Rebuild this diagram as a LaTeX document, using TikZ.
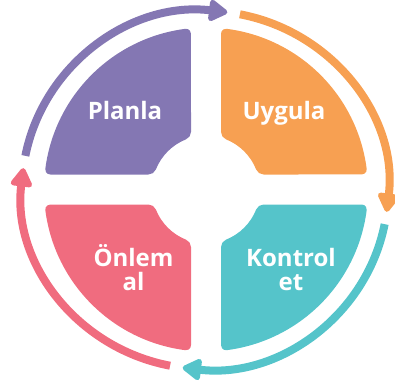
\documentclass[tikz,border=0pt]{standalone}
\usepackage{fontspec}
\setsansfont{Open Sans}
\usetikzlibrary{arrows.meta}

\definecolor{planlacol}{HTML}{8477B3}
\definecolor{uygulacol}{HTML}{F7A052}
\definecolor{kontrolcol}{HTML}{55C4CA}
\definecolor{onlemcol}{HTML}{F06C7F}

\tikzset{
  cyclearrow/.style={line width=8pt, -{Triangle[width=24pt, length=21pt, round]}},
  quadtext/.style={text=white, font=\sffamily\bfseries\fontsize{24}{24}\selectfont,
    align=center, anchor=base, inner sep=0pt},
}

\begin{document}
\begin{tikzpicture}[x=1pt, y=1pt]
  \useasboundingbox (-206,-201.5) rectangle (189,189.5);

  % one quarter, with its corners filleted by hand
  \def\quarter#1{%
    \fill[#1] (15,57.58) -- (15,155.72)
      arc[start angle=180, end angle=82.68, radius=5]
      arc[start angle=82.68, end angle=7.32, radius=162]
      arc[start angle=7.32, end angle=-90, radius=5]
      -- (57.58,15)
      arc[start angle=270, end angle=201.77, radius=8]
      arc[start angle=21.77, end angle=68.23, radius=54]
      arc[start angle=248.23, end angle=180, radius=8] -- cycle;
  }

  \begin{scope}[rotate=0]
    \quarter{uygulacol}
  \end{scope}
  \begin{scope}[rotate=90]
    \quarter{planlacol}
  \end{scope}
  \begin{scope}[rotate=180]
    \quarter{onlemcol}
  \end{scope}
  \begin{scope}[rotate=270]
    \quarter{kontrolcol}
  \end{scope}

  % arrows round the cycle
  \coordinate (ringc) at (-1,-0.5);
  \draw[cyclearrow, planlacol] (ringc) ++(169:183 and 179)
    arc[start angle=169, end angle=83, x radius=183, y radius=179];
  \draw[cyclearrow, uygulacol] (ringc) ++(79:183 and 179)
    arc[start angle=79, end angle=-7, x radius=183, y radius=179];
  \draw[cyclearrow, kontrolcol] (ringc) ++(-11:183 and 179)
    arc[start angle=-11, end angle=-97, x radius=183, y radius=179];
  \draw[cyclearrow, onlemcol] (ringc) ++(-101:183 and 179)
    arc[start angle=-101, end angle=-187, x radius=183, y radius=179];

  \node[quadtext] (planla) at (-81,70) {Planla};
  \node[quadtext] (uygula) at (78,70) {Uygula};
  \node[quadtext] (onlem) at (-72.5,-100.5) {Önlem\\al};
  \node[quadtext] (kontrol) at (85,-100.5) {Kontrol\\et};

\end{tikzpicture}
\end{document}
